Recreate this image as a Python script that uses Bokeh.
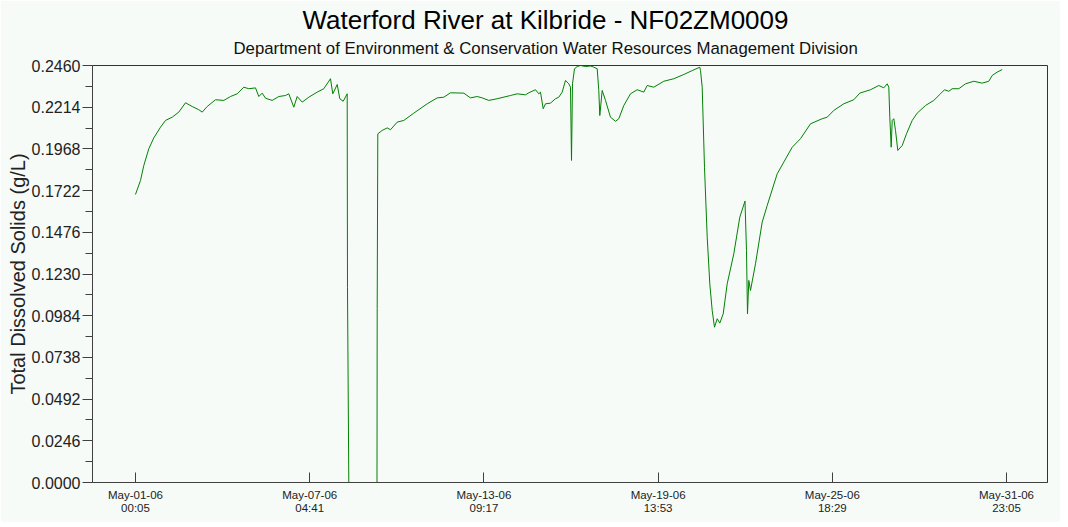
from bokeh.plotting import figure
from bokeh.models import Range1d, FixedTicker, Title, NumeralTickFormatter
from bokeh.embed import file_html
from bokeh.resources import INLINE

title_text = "Waterford River at Kilbride - NF02ZM0009"
subtitle_text = "Department of Environment & Conservation Water Resources Management Division"
y_label = "Total Dissolved Solids (g/L)"

# hours since May-01-06 00:05
hours = [0, 4.27, 7.08, 11.35, 15.61, 21.33, 25.59, 31.31, 36.94, 42.65,
         48.37, 54.0, 56.9, 61.16, 68.24, 75.32, 81.04, 86.75, 92.38, 96.65,
         102.36, 105.18, 108.08, 110.89, 116.61, 122.24, 127.95, 130.77, 135.03, 137.93,
         142.2, 147.83, 155.0, 160.63, 166.34, 168.31, 172.06, 174.27, 177.17, 180.58,
         180.84, 181.95, 206.0, 206.17, 206.69, 210.44, 214.71, 217.52, 223.24, 228.87,
         237.40, 248.83, 257.36, 262.99, 268.70, 280.05, 285.76, 291.48, 295.74, 301.37,
         308.54, 319.88, 325.60, 332.68, 335.49, 341.21, 344.02, 345.47, 347.78, 349.74,
         354.0, 358.27, 361.08, 363.98, 366.80, 369.61, 371.06, 371.92, 372.77, 374.48,
         376.78, 379.6, 383.86, 388.13, 390.69, 393.84, 395.2, 396.06, 398.1, 400.92,
         405.18, 409.45, 412.27, 416.53, 422.25, 427.96, 433.59, 436.49, 442.12, 450.65,
         459.18, 467.71, 474.88, 481.36, 481.96, 483.41, 485.37, 487.68, 489.90, 491.94,
         493.90, 496.21, 498.42, 501.32, 504.73, 510.36, 515.48, 519.91, 521.19, 522.05,
         523.16, 524.6, 528.87, 534.59, 538.85, 547.38, 553.01, 560.18, 567.26, 575.79,
         585.77, 590.04, 595.67, 604.20, 612.73, 617.85, 626.98, 634.06, 638.32, 641.22,
         642.59, 643.44, 644.63, 645.49, 646.85, 648.3, 650.26, 654.02, 657.68, 662.55,
         666.81, 673.89, 680.97, 686.68, 690.09, 693.76, 696.66, 702.29, 708.0, 715.08,
         722.25, 727.88, 730.78, 735.04, 739.31]

# Total dissolved solids, g/L
tds = [0.1699, 0.1782, 0.1870, 0.1969, 0.2033, 0.2096, 0.2136, 0.2155, 0.2185, 0.2240,
       0.2218, 0.2199, 0.2185, 0.2218, 0.2258, 0.2254, 0.2277, 0.2293, 0.2332, 0.2323,
       0.2328, 0.2277, 0.2297, 0.2267, 0.2254, 0.2277, 0.2283, 0.2293, 0.2214, 0.2277,
       0.2244, 0.2273, 0.2303, 0.2323, 0.2382, 0.2293, 0.2348, 0.2264, 0.2249, 0.2293,
       0.1152, 0.0, 0.0, 0.1026, 0.2057, 0.2077, 0.2092, 0.2081, 0.2126, 0.2136,
       0.2179, 0.2234, 0.2269, 0.2273, 0.2299, 0.2297, 0.2269, 0.2277, 0.2269, 0.2254,
       0.2264, 0.2283, 0.2293, 0.2287, 0.2299, 0.2317, 0.2293, 0.2303, 0.2205, 0.2234,
       0.2238, 0.2264, 0.2273, 0.2303, 0.2372, 0.2352, 0.2332, 0.1900, 0.2352, 0.2441,
       0.2454, 0.2460, 0.2454, 0.2457, 0.2451, 0.2441, 0.2313, 0.2165, 0.2313, 0.2254,
       0.2155, 0.2131, 0.2146, 0.2224, 0.2293, 0.2317, 0.2303, 0.2342, 0.2332, 0.2367,
       0.2382, 0.2407, 0.2430, 0.2450, 0.2430, 0.2332, 0.1860, 0.1447, 0.1172, 0.1015,
       0.0916, 0.0966, 0.0940, 0.0995, 0.1172, 0.1349, 0.1565, 0.1660, 0.1369, 0.0995,
       0.1192, 0.1133, 0.1290, 0.1536, 0.1634, 0.1821, 0.1890, 0.1978, 0.2028, 0.2116,
       0.2146, 0.2155, 0.2195, 0.2234, 0.2258, 0.2297, 0.2317, 0.2342, 0.2328, 0.2352,
       0.2332, 0.2155, 0.1978, 0.2136, 0.2146, 0.2077, 0.1959, 0.1988, 0.2057, 0.2136,
       0.2179, 0.2224, 0.2254, 0.2293, 0.2317, 0.2308, 0.2323, 0.2323, 0.2352, 0.2367,
       0.2356, 0.2367, 0.2401, 0.2421, 0.2436]

# x ticks in minutes since May-01-06 00:05
x_tick_minutes = [0, 8916, 17832, 26748, 35664, 44580]
x_tick_labels = ["May-01-06\n00:05", "May-07-06\n04:41", "May-13-06\n09:17",
                 "May-19-06\n13:53", "May-25-06\n18:29", "May-31-06\n23:05"]
y_ticks = [0.0, 0.0246, 0.0492, 0.0738, 0.0984, 0.123, 0.1476, 0.1722, 0.1968, 0.2214, 0.246]

minutes = [h * 60 for h in hours]
y_minor = [(a + b) / 2 for a, b in zip(y_ticks[:-1], y_ticks[1:])]

BG = "#F6FBF8"
FONT = "Liberation Sans"
AX = "#404040"

p = figure(width=1060, height=522, output_backend="svg", toolbar_location=None,
           x_range=Range1d(-36.68 * 60, 777.96 * 60), y_range=Range1d(0, 0.246),
           min_border_left=92, min_border_right=13, min_border_top=65, min_border_bottom=40,
           background_fill_color=BG, border_fill_color=BG)
p.title.text = ""
p.xgrid.visible = False
p.ygrid.visible = False
p.outline_line_color = "#333333"
p.outline_line_width = 1

p.line(minutes, tds, line_color="#008000", line_width=1)

p.add_layout(Title(text=subtitle_text, align="left", offset=141, text_font=FONT,
                   text_font_size="16.8px", text_font_style="normal", text_color="#111111",
                   standoff=16), "above")
p.add_layout(Title(text=title_text, align="left", offset=210, text_font=FONT,
                   text_font_size="26px", text_font_style="normal", text_color="#000000",
                   standoff=-12), "above")

xa = p.xaxis[0]
xa.ticker = FixedTicker(ticks=x_tick_minutes)
xa.major_label_overrides = dict(zip(x_tick_minutes, x_tick_labels))
xa.major_tick_in = 10
xa.major_tick_out = 0
xa.minor_tick_line_color = None
xa.axis_line_color = AX
xa.major_tick_line_color = AX
xa.major_label_standoff = 6
xa.major_label_text_font = FONT
xa.major_label_text_font_size = "11.5px"
xa.major_label_text_line_height = 1.15
xa.major_label_text_color = "#222222"

ya = p.yaxis[0]
ya.ticker = FixedTicker(ticks=y_ticks, minor_ticks=y_minor)
ya.formatter = NumeralTickFormatter(format="0.0000")
ya.major_tick_in = 0
ya.major_tick_out = 10
ya.minor_tick_in = 0
ya.minor_tick_out = 7
ya.axis_line_color = AX
ya.major_tick_line_color = AX
ya.minor_tick_line_color = AX
ya.major_label_standoff = 2
ya.major_label_text_font = FONT
ya.major_label_text_font_size = "16px"
ya.major_label_text_color = "#222222"
ya.axis_label = y_label
ya.axis_label_text_font = FONT
ya.axis_label_text_font_size = "20px"
ya.axis_label_text_font_style = "normal"
ya.axis_label_text_color = "#222222"
ya.axis_label_standoff = 0

open("out.html", "w").write(file_html(p, INLINE))
